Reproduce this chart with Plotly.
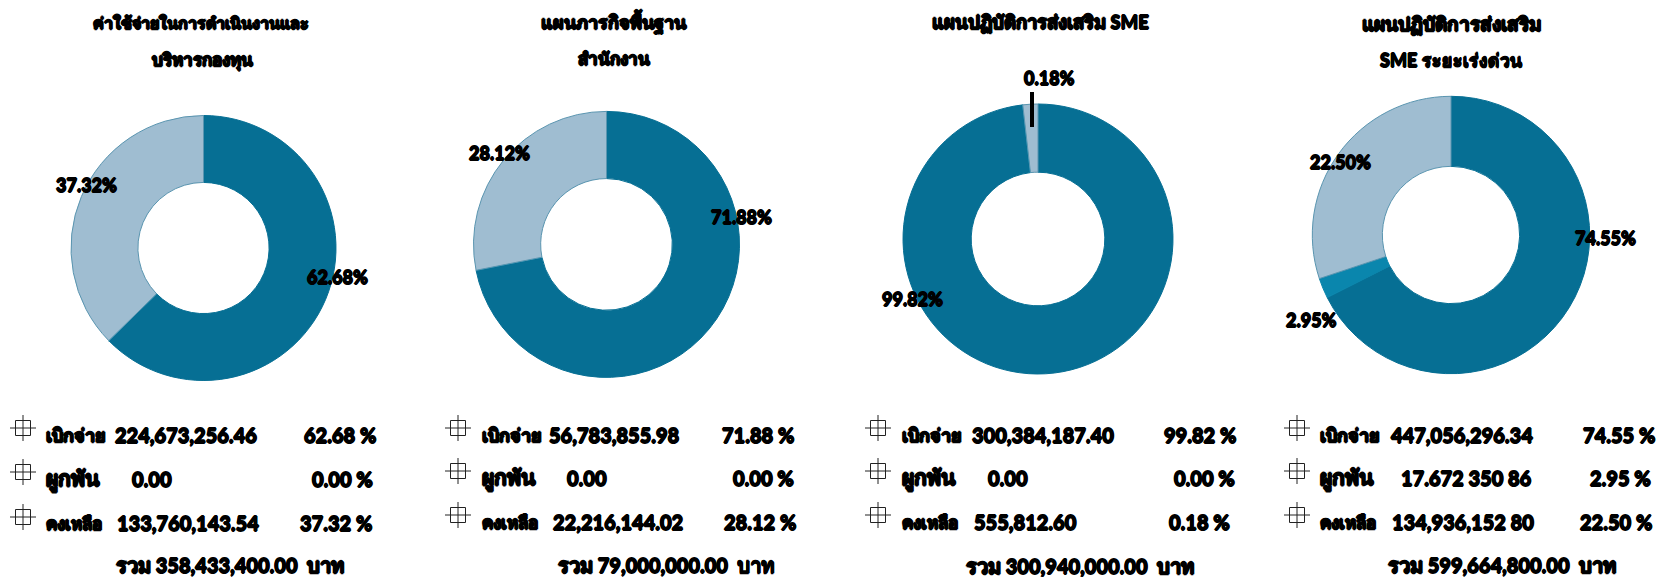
import plotly.graph_objects as go

W, H = 1666, 577

titles = [
    ["ค่าใช้จ่ายในการดำเนินงานและ", "บริหารกองทุน"],
    ["แผนภารกิจพื้นฐาน", "สำนักงาน"],
    ["แผนปฏิบัติการส่งเสริม SME"],
    ["แผนปฏิบัติการส่งเสริม", "SME ระยะเร่งด่วน"],
]
row_labels = ["เบิกจ่าย", "ผูกพัน", "คงเหลือ"]
# slice shares as drawn in the picture
spent = [62.68, 71.88, 98.2, 67.55]
committed = [0.0, 0.0, 0.0, 2.36]
remaining = [37.32, 28.12, 1.8, 30.09]
amount_text = [
    ["224,673,256.46", "0.00", "133,760,143.54"],
    ["56,783,855.98", "0.00", "22,216,144.02"],
    ["300,384,187.40", "0.00", "555,812.60"],
    ["447,056,296.34", "17.672 350 86", "134,936,152 80"],
]
percent_text = [
    ["62.68 %", "0.00 %", "37.32 %"],
    ["71.88 %", "0.00 %", "28.12 %"],
    ["99.82 %", "0.00 %", "0.18 %"],
    ["74.55 %", "2.95 %", "22.50 %"],
]
totals = ["รวม 358,433,400.00  บาท", "รวม 79,000,000.00  บาท", "รวม 300,940,000.00  บาท", "รวม 599,664,800.00  บาท"]
slice_labels = [
    ["62.68%", None, "37.32%"],
    ["71.88%", None, "28.12%"],
    ["99.82%", None, "0.18%"],
    ["74.55%", "2.95%", "22.50%"],
]
colors = ["#066f94", "#0a86ad", "#9fbdd1"]
line_colors = ["#066f94", "#0a86ad", "#5a95b0"]

# layout: pie centre x, centre y, radius, in pixels
pies = [(203.5, 248, 132.5), (606.5, 244.4, 133), (1038, 239, 135), (1451, 235, 138.7)]
title_pos = [[(201, 23), (202, 60)], [(614, 22), (614, 58)], [(1040, 23)], [(1452, 24), (1451, 60)]]
title_size = [[16, 17], [18, 17], [18.5], [19, 18]]
label_pos = [
    [(337, 277), None, (86, 185)],
    [(741, 217), None, (500, 153)],
    [(912, 299), None, (1049, 78)],
    [(1605, 238), (1311, 320), (1340, 162)],
]
row_y = [[435, 479, 523], [435, 478, 522], [435, 478, 522], [435, 478, 522]]
icon_y = [[428, 472, 517], [428, 471, 515], [428, 471, 515], [428, 471, 515]]
icon_x = [23, 458, 878, 1297]
name_x = [44, 480, 900, 1318]
name_size = [18, 21, 17]
amount_x = [[186, 152, 188], [614, 587, 618], [1043, 1008, 1025], [1462, 1466, 1463]]
pct_x = [[378, 375, 374], [796, 796, 798], [1238, 1237, 1232], [1657, 1653, 1654]]
total_pos = [(230, 565), (666, 565), (1080, 566), (1502, 565)]

def px(x): return x / W
def py(y): return 1 - y / H

fig = go.Figure()
ann, shapes = [], []
FONT = "Lato, 'Noto Sans', sans-serif"
SH = "0.7px 0 0 #000, -0.7px 0 0 #000, 0 0.7px 0 #000, 0 -0.7px 0 #000"
def text(x, y, s, size=20, anchor="center"):
    ann.append(dict(x=px(x), y=py(y), xref="paper", yref="paper", text=s, showarrow=False,
                    xanchor=anchor, yanchor="middle",
                    font=dict(family=FONT, size=size, color="#000", weight=900, shadow=SH)))

for i, (cx, cy, r) in enumerate(pies):
    fig.add_trace(go.Pie(
        values=[spent[i], committed[i], remaining[i]],
        labels=row_labels, sort=False, direction="clockwise", rotation=0,
        hole=0.495, textinfo="none", showlegend=False,
        marker=dict(colors=colors, line=dict(color=line_colors, width=1)),
        domain=dict(x=[px(cx - r), px(cx + r)], y=[py(cy + r), py(cy - r)]),
    ))
    for line, (tx, ty), ts in zip(titles[i], title_pos[i], title_size[i]):
        text(tx, ty, line, size=ts)
    for j in range(3):
        if slice_labels[i][j]:
            lx, ly = label_pos[i][j]
            text(lx, ly, slice_labels[i][j], size=18)
    for j in range(3):
        y = row_y[i][j]
        ix, iy = icon_x[i], icon_y[i][j]
        for sh in (
            dict(type="rect", x0=px(ix - 7.5), x1=px(ix + 7.5), y0=py(iy - 7.5), y1=py(iy + 7.5)),
            dict(type="line", x0=px(ix - 13), x1=px(ix + 13), y0=py(iy), y1=py(iy)),
            dict(type="line", x0=px(ix), x1=px(ix), y0=py(iy - 13), y1=py(iy + 13)),
        ):
            shapes.append(dict(sh, xref="paper", yref="paper", line=dict(color="#222", width=1)))
        text(name_x[i], y, row_labels[j], size=name_size[j], anchor="left")
        text(amount_x[i][j], y, amount_text[i][j])
        text(pct_x[i][j], y, percent_text[i][j], anchor="right")
    text(total_pos[i][0], total_pos[i][1], totals[i])

shapes.append(dict(type="line", xref="paper", yref="paper", x0=px(1032), x1=px(1032), y0=py(92), y1=py(127),
                   line=dict(color="#000", width=4)))

fig.update_layout(width=W, height=H, margin=dict(l=0, r=0, t=0, b=0), paper_bgcolor="#fff",
                  annotations=ann, shapes=shapes)
fig.write_html("out.html", config={"displayModeBar": False},
               post_script="document.body.style.margin='0';document.body.style.overflow='hidden';")
